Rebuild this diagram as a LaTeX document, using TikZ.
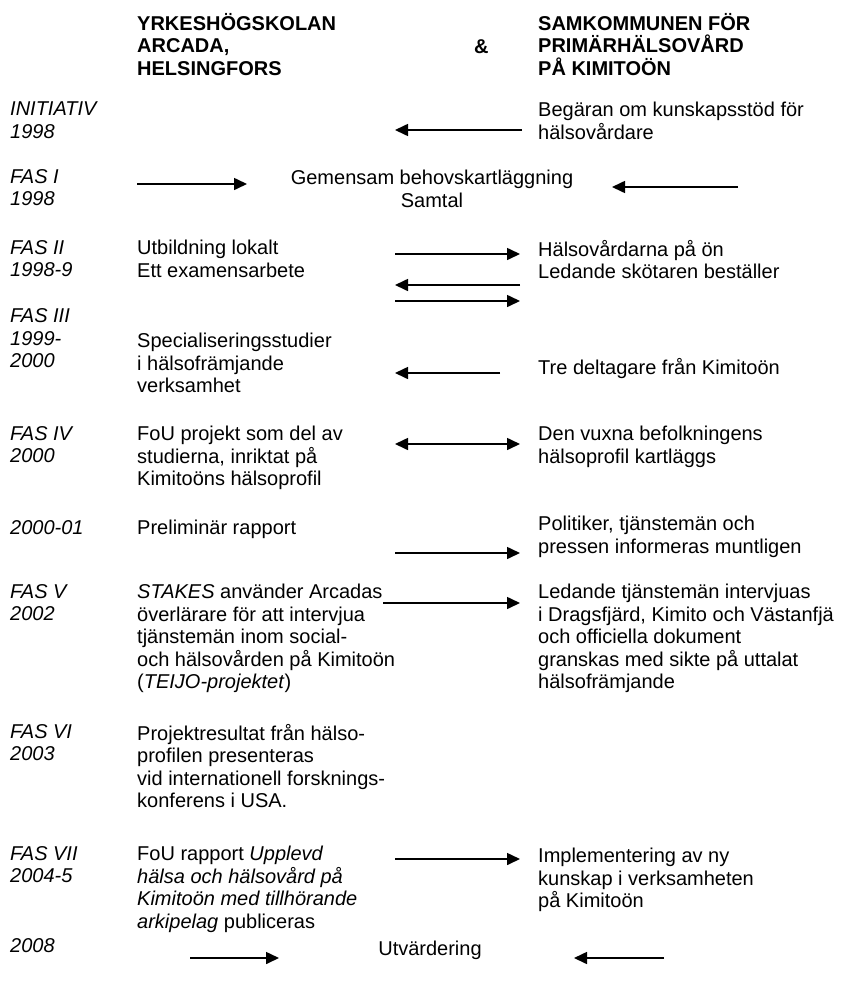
\documentclass[tikz,border=0pt]{standalone}
\usepackage{fontspec}
\setmainfont{Liberation Sans}
\usetikzlibrary{positioning, arrows.meta}
\newcommand{\txtsize}{\fontsize{20}{22.5}\selectfont}
\newcommand{\topstrut}{\rule{0pt}{18pt}}
\tikzstyle{Txt} = [
anchor=north west,
inner sep=0pt,
align=left,
font=\txtsize,
execute at begin node=\topstrut]
\tikzstyle{Lbl} = [Txt, font=\txtsize\itshape]
\tikzstyle{Head} = [Txt, font=\txtsize\bfseries]
\tikzstyle{Mid} = [Txt, anchor=north, align=center]
\tikzstyle{Arrow} = [
line width=1.6pt,
-{Triangle[length=13pt, width=12pt]}]
\tikzstyle{DArrow} = [
line width=1.6pt,
{Triangle[length=13pt, width=12pt]}-{Triangle[length=13pt, width=12pt]}]

\begin{document}
\begin{tikzpicture}[x=1pt, y=-1pt]
    \useasboundingbox (0,0) rectangle (841,983);

    % headers
    \node [Head] (hl) at (137,13) {YRKESHÖGSKOLAN\\ARCADA,\\HELSINGFORS};
    \node [Head] (amp) at (474,35.5) {\&};
    \node [Head] (hr) at (538,13) {SAMKOMMUNEN FÖR\\PRIMÄRHÄLSOVÅRD\\PÅ KIMITOÖN};

    % phases
    \node [Lbl] (ini) at (10,102) {INITIATIV\\1998};
    \node [Lbl] (f1) at (10,169) {FAS I\\1998};
    \node [Lbl] (f2) at (10,240) {FAS II\\1998-9};
    \node [Lbl] (f3) at (10,304) {FAS III};
    \node [Lbl] (f3y) at (10,331) {1999-\\2000};
    \node [Lbl] (f4) at (10,426) {FAS IV\\2000};
    \node [Lbl] (p01) at (10,516) {2000-01};
    \node [Lbl] (f5) at (10,584) {FAS V\\2002};
    \node [Lbl] (f6) at (10,724) {FAS VI\\2003};
    \node [Lbl] (f7) at (10,846) {FAS VII\\2004-5};
    \node [Lbl] (p08) at (10,934) {2008};

    % Arcada side
    \node [Txt] (l2) at (137,240) {Utbildning lokalt\\Ett examensarbete};
    \node [Txt] (l3) at (137,333) {Specialiseringsstudier\\i hälsofrämjande\\verksamhet};
    \node [Txt] (l4) at (137,426) {FoU projekt som del av\\studierna, inriktat på\\Kimitoöns hälsoprofil};
    \node [Txt] (l5) at (137,516) {Preliminär rapport};
    \node [Txt] (l6) at (137,584) {\textit{STAKES} använder Arcadas\\överlärare för att intervjua\\tjänstemän inom social-\\och hälsovården på Kimitoön\\(\textit{TEIJO-projektet})};
    \node [Txt] (l7) at (137,724) {Projektresultat från hälso-\\profilen presenteras\\vid internationell forsknings-\\konferens i USA.};
    \node [Txt] (l8) at (137,846) {FoU rapport \textit{Upplevd}\\\textit{hälsa och hälsovård på}\\\textit{Kimitoön med tillhörande}\\\textit{arkipelag} publiceras};

    % Kimitoön side
    \node [Txt] (r1) at (538,102) {Begäran om kunskapsstöd för\\hälsovårdare};
    \node [Txt] (r2) at (538,240) {Hälsovårdarna på ön\\Ledande skötaren beställer};
    \node [Txt] (r3) at (538,356) {Tre deltagare från Kimitoön};
    \node [Txt] (r4) at (538,426) {Den vuxna befolkningens\\hälsoprofil kartläggs};
    \node [Txt] (r5) at (538,516) {Politiker, tjänstemän och\\pressen informeras muntligen};
    \node [Txt] (r6) at (538,584) {Ledande tjänstemän intervjuas\\i Dragsfjärd, Kimito och Västanfjä\\och officiella dokument\\granskas med sikte på uttalat\\hälsofrämjande};
    \node [Txt] (r8) at (538,848) {Implementering av ny\\kunskap i verksamheten\\på Kimitoön};

    % joint
    \node [Mid] (c1) at (432,170) {Gemensam behovskartläggning\\Samtal};
    \node [Mid] (c2) at (430,937) {Utvärdering};

    % arrow ends
    \foreach \n/\xa/\xb/\y in {a1/522/395/130, a2/137/247/184, a3/738/612/187,
        a4/395/520/254, a5/520/395/285, a6/395/520/301, a7/500/395/373,
        a8/395/520/444, a9/395/520/553, a10/383/520/603, a11/395/520/859,
        a12/190/279/958, a13/664/574/958}
    {
        \coordinate (\n s) at (\xa,\y);
        \coordinate (\n e) at (\xb,\y);
    }

    \foreach \n in {a1,a2,a3,a4,a5,a6,a7,a9,a10,a11,a12,a13}
        \draw[Arrow] (\n s) -- (\n e);
    \draw[DArrow] (a8s) -- (a8e);
\end{tikzpicture}
\end{document}
